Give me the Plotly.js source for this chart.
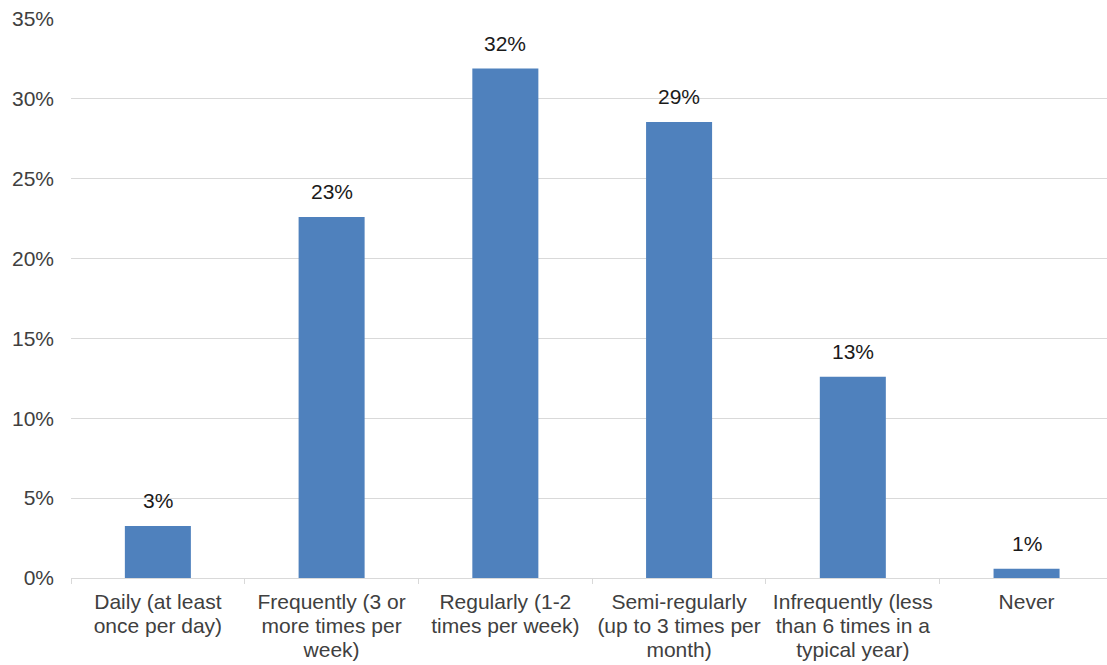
<!DOCTYPE html>
<html>
<head>
<meta charset="utf-8">
<script src="https://cdn.plot.ly/plotly-3.0.1.min.js"></script>
<style>
  html, body { margin: 0; padding: 0; background: #ffffff; }
  #chart { width: 1107px; height: 665px; }
</style>
</head>
<body>
<div id="chart"></div>
<script>
// How often respondents do the activity (share of respondents, %)
const categories = [
  "Daily (at least<br>once per day)",
  "Frequently (3 or<br>more times per<br>week)",
  "Regularly (1-2<br>times per week)",
  "Semi-regularly<br>(up to 3 times per<br>month)",
  "Infrequently (less<br>than 6 times in a<br>typical year)",
  "Never"
];
const shares = [3.25, 22.6, 31.9, 28.55, 12.6, 0.58];
const yTickValues = [0, 5, 10, 15, 20, 25, 30, 35];
const yTickLabels = ["0%", "5%", "10%", "15%", "20%", "25%", "30%", "35%"];

const FONT = "Liberation Sans, Arial, sans-serif";
const TEXT_COLOR = "#404040";

const bars = {
  type: "bar",
  x: categories,
  y: shares,
  marker: { color: "#4F81BD", line: { width: 0 } },
  hoverinfo: "skip"
};

// value labels above each bar, formatted from the bar values
const valueLabels = categories.map((c, i) => ({
  x: c,
  y: shares[i],
  xref: "x",
  yref: "y",
  text: Math.round(shares[i]) + "%",
  showarrow: false,
  yanchor: "bottom",
  yshift: 12,
  font: { family: FONT, size: 21, color: "#1a1a1a" }
}));

const layout = {
  width: 1107,
  height: 665,
  margin: { l: 71, r: 0, t: 19, b: 87, pad: 0 },
  paper_bgcolor: "#ffffff",
  plot_bgcolor: "#ffffff",
  showlegend: false,
  bargap: 0.62,
  font: { family: FONT, size: 21, color: TEXT_COLOR },
  xaxis: {
    type: "category",
    range: [-0.5, 5.463],
    showgrid: false,
    showline: true,
    linecolor: "#d9d9d9",
    linewidth: 1,
    ticks: "outside",
    tickson: "boundaries",
    ticklen: 5,
    tickcolor: "#d9d9d9",
    tickwidth: 1,
    tickangle: 0,
    ticklabelstandoff: 5,
    tickfont: { family: FONT, size: 21, color: TEXT_COLOR },
    fixedrange: true
  },
  yaxis: {
    range: [0, 35],
    tickvals: yTickValues,
    ticktext: yTickLabels,
    showgrid: true,
    gridcolor: "#d9d9d9",
    gridwidth: 1,
    zeroline: false,
    showline: false,
    ticks: "",
    ticklabelstandoff: 16,
    tickfont: { family: FONT, size: 21, color: TEXT_COLOR },
    fixedrange: true
  },
  annotations: valueLabels
};

// tighten the line spacing of the wrapped category labels
function tightenCategoryLines(gd) {
  const scale = 1.14 / 1.3;
  gd.querySelectorAll(".xtick text tspan.line").forEach(t => {
    const dy = t.getAttribute("dy");
    const v = dy ? parseFloat(dy) : 0;
    if (v > 0) t.setAttribute("dy", (v * scale).toFixed(3) + "em");
  });
}

Plotly.newPlot("chart", [bars], layout, { displayModeBar: false, staticPlot: true })
  .then(gd => tightenCategoryLines(gd));
</script>
</body>
</html>
